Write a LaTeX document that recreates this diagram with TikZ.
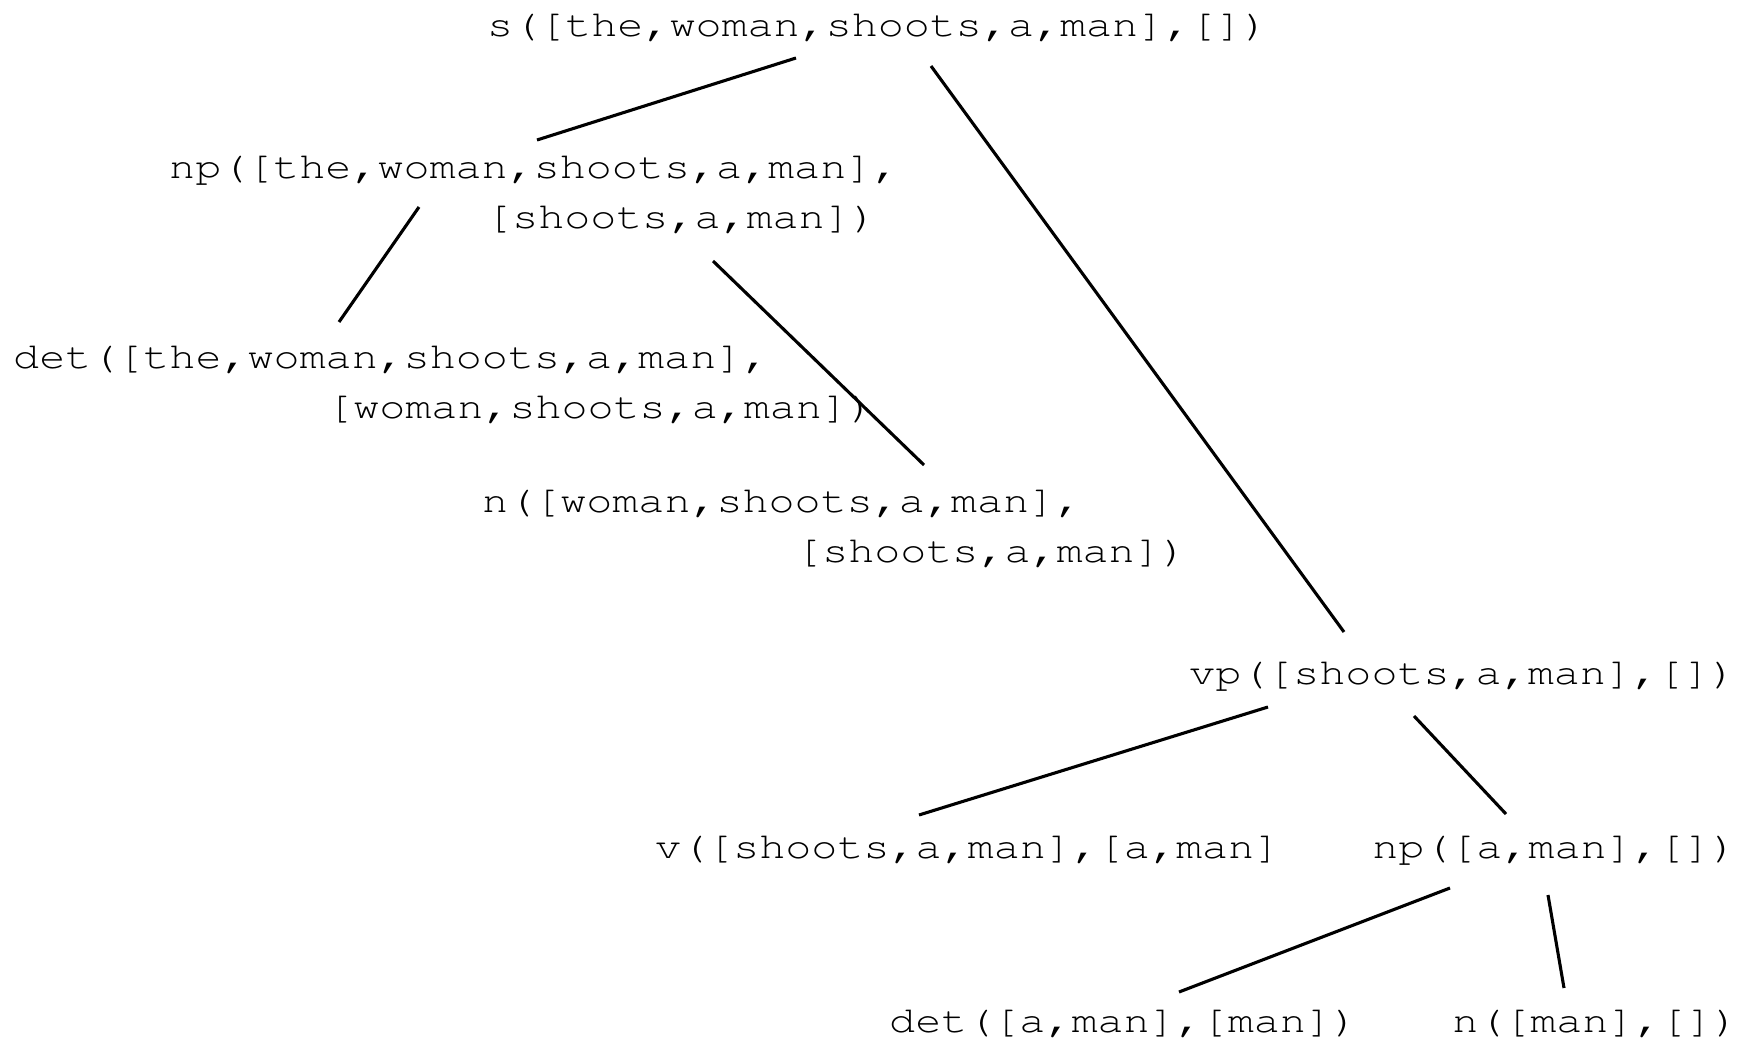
\documentclass[tikz,border=0pt]{standalone}
\usepackage[T1,TU]{fontenc}
\tikzset{
  term/.style={anchor=base west, inner sep=0pt, xscale=1.173,
    font=\fontencoding{T1}\fontfamily{pcr}\fontseries{m}\fontshape{n}\fontsize{37}{44}\selectfont},
  edge/.style={line width=3.1pt, black}
}
\begin{document}
\begin{tikzpicture}[x=1pt,y=-1pt]
\useasboundingbox (0,0) rectangle (1746,1041);
% nodes
\node[term] (s)   at (487,37)  {s([the,woman,shoots,a,man],[])};
\node[term] (npA) at (169,178) {np([the,woman,shoots,a,man],};
\node[term] (npB) at (486,228) {[shoots,a,man])};
\node[term] (detA) at (13,368) {det([the,woman,shoots,a,man],};
\node[term] (detB) at (327,418) {[woman,shoots,a,man])};
\node[term] (nA)  at (482,512) {n([woman,shoots,a,man],};
\node[term] (nB)  at (796,562) {[shoots,a,man])};
\node[term] (vp)  at (1189,684) {vp([shoots,a,man],[])};
\node[term] (v)   at (655,858) {v([shoots,a,man],[a,man]};
\node[term] (np2) at (1372,858) {np([a,man],[])};
\node[term] (det2) at (889,1032) {det([a,man],[man])};
\node[term] (n2)  at (1452,1032) {n([man],[])};
% connector end points
\coordinate (s-l)   at (796,58);
\coordinate (np-u)  at (537,140);
\coordinate (s-r)   at (931,66);
\coordinate (vp-u)  at (1344,632);
\coordinate (np-l)  at (419,207);
\coordinate (det-u) at (339,322);
\coordinate (np-r)  at (713,261);
\coordinate (n-u)   at (924,465);
\coordinate (vp-l)  at (1268,707);
\coordinate (v-u)   at (919,815);
\coordinate (vp-r)  at (1414,716);
\coordinate (np2-u) at (1506,814);
\coordinate (np2-l) at (1450,888);
\coordinate (det2-u) at (1179,992);
\coordinate (np2-r) at (1548,895);
\coordinate (n2-u)  at (1564,988);
% connectors
\draw[edge] (s-l) -- (np-u);
\draw[edge] (s-r) -- (vp-u);
\draw[edge] (np-l) -- (det-u);
\draw[edge] (np-r) -- (n-u);
\draw[edge] (vp-l) -- (v-u);
\draw[edge] (vp-r) -- (np2-u);
\draw[edge] (np2-l) -- (det2-u);
\draw[edge] (np2-r) -- (n2-u);
\end{tikzpicture}
\end{document}
